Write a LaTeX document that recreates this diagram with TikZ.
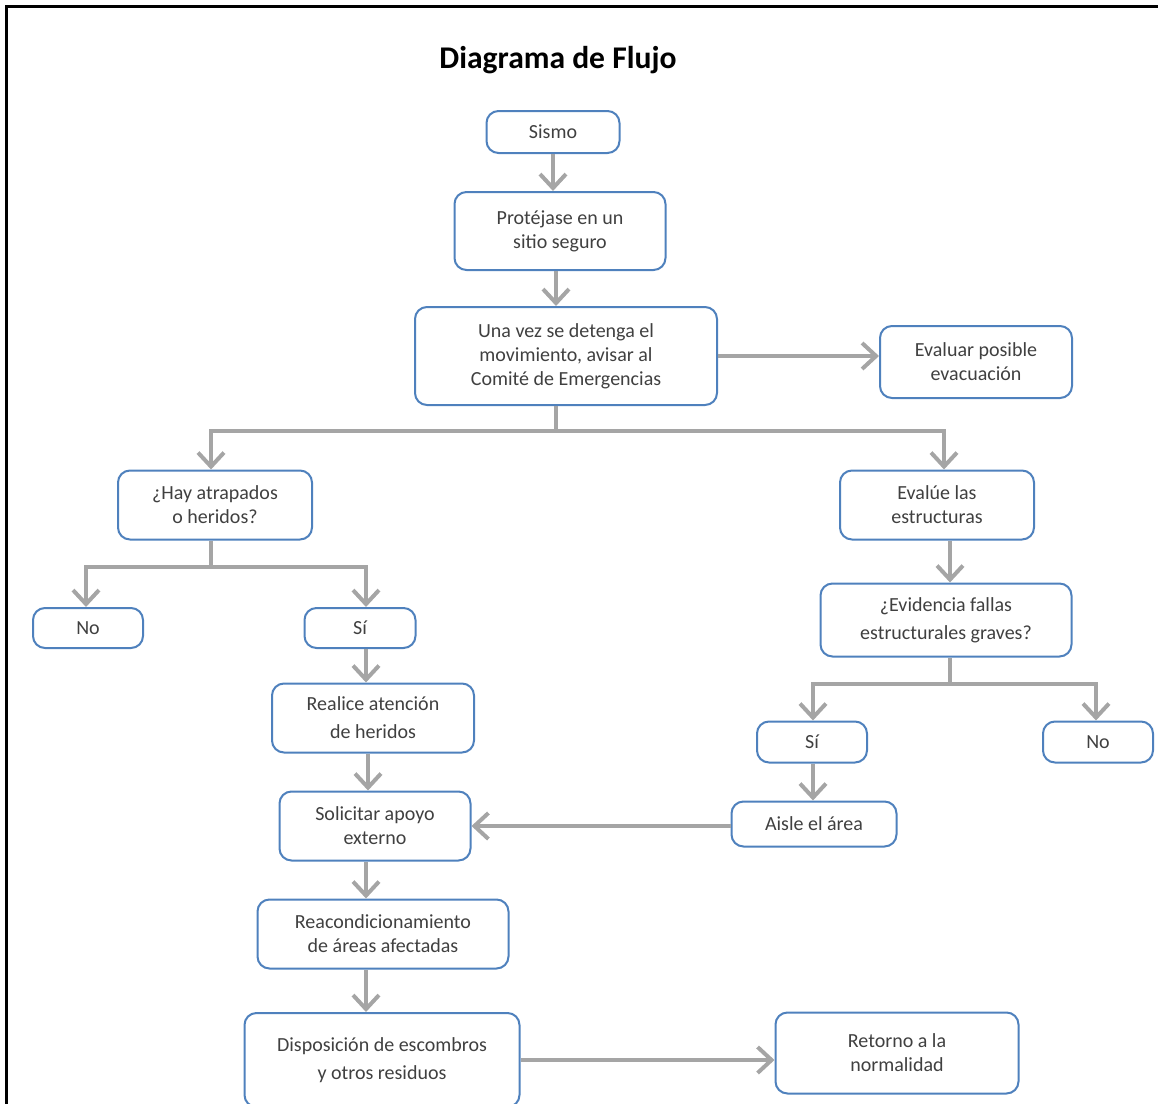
\documentclass[tikz,border=0pt]{standalone}
\usepackage{fontspec}
\setmainfont{Carlito}
\usetikzlibrary{arrows.meta}
\definecolor{boxblue}{RGB}{79,129,189}
\definecolor{arrgray}{RGB}{165,165,165}
\definecolor{txtgray}{RGB}{64,64,64}

\begin{document}
\begin{tikzpicture}[x=0.5pt,y=-0.5pt,
    box/.style={draw=boxblue,line width=1pt,rounded corners=6pt,fill=white,
      text=txtgray,align=center,font=\fontsize{10}{12}\selectfont,inner sep=2pt},
    line/.style={draw=arrgray,line width=2pt},
    arr/.style={line,-{Straight Barb[length=7pt,width=13pt]}}]
            \clip (0,0) rectangle (1158,1104);
            \draw[line width=1.5pt] (6,1110) -- (6,6) -- (1160,6);
            \node (Titulo) at (558,60) {\fontsize{15.8}{18}\selectfont\bfseries Diagrama de Flujo};
            \node[box,minimum width=66.5pt,minimum height=21pt] (Sismo) at (553,132) {Sismo};
            \node[box,minimum width=105.5pt,minimum height=39pt] (Proteja) at (560,231) {Protéjase en un\\sitio seguro};
            \node[box,minimum width=151pt,minimum height=49pt] (Aviso) at (566,356) {Una vez se detenga el\\movimiento, avisar al\\Comité de Emergencias};
            \node[box,minimum width=96pt,minimum height=36pt] (Evacua) at (976,362) {Evaluar posible\\evacuación};
            \node[box,minimum width=97pt,minimum height=34.5pt] (Heridos) at (215,505) {¿Hay atrapados\\o heridos?};
            \node[box,minimum width=97pt,minimum height=34.5pt] (Estruc) at (937,505) {Evalúe las\\estructuras};
            \node[box,minimum width=55pt,minimum height=20pt] (NoA) at (88,628) {No};
            \node[box,minimum width=55.5pt,minimum height=20pt] (SiA) at (360,628) {Sí};
            \node[box,minimum width=125.5pt,minimum height=36.5pt] (Fallas) at (946,620) {¿Evidencia fallas\\[2pt]estructurales graves?};
            \node[box,minimum width=101pt,minimum height=34.5pt] (Atencion) at (373,718) {Realice atención\\[2pt]de heridos};
            \node[box,minimum width=55pt,minimum height=20.5pt] (SiB) at (812,742) {Sí};
            \node[box,minimum width=55pt,minimum height=20.5pt] (NoB) at (1098,742) {No};
            \node[box,minimum width=95.5pt,minimum height=34.5pt] (Apoyo) at (375,826) {Solicitar apoyo\\externo};
            \node[box,minimum width=82.5pt,minimum height=22.5pt] (Aisle) at (814,824) {Aisle el área};
            \node[box,minimum width=125.5pt,minimum height=34.5pt] (Reacond) at (383,934) {Reacondicionamiento\\de áreas afectadas};
            \node[box,minimum width=137.5pt,minimum height=47pt] (Dispos) at (382,1060) {Disposición de escombros\\[2pt]y otros residuos};
            \node[box,minimum width=121.5pt,minimum height=40.5pt] (Retorno) at (897,1053) {Retorno a la\\normalidad};
            \coordinate (j1) at (556,431);
            \coordinate (j2) at (211,567);
            \coordinate (j3) at (950,684);
            \draw[arr] (Sismo.south) -- (Sismo.south |- Proteja.north);
            \draw[arr] (Proteja.south -| j1) -- (j1 |- Aviso.north);
            \draw[arr] (Aviso.east) -- (Evacua.west |- Aviso.east);
            \draw[line] (Aviso.south -| j1) -- (j1);
            \draw[arr] (j1) -| (Heridos.north -| 211,0);
            \draw[arr] (j1) -| (Estruc.north -| 944,0);
            \draw[line] (Heridos.south -| j2) -- (j2);
            \draw[arr] (j2) -| (NoA.north -| 86,0);
            \draw[arr] (j2) -| (SiA.north -| 366,0);
            \draw[arr] (SiA.south -| 366,0) -- (Atencion.north -| 366,0);
            \draw[arr] (Atencion.south -| 368,0) -- (Apoyo.north -| 368,0);
            \draw[arr] (Apoyo.south -| 366,0) -- (Reacond.north -| 366,0);
            \draw[arr] (Reacond.south -| 366,0) -- (Dispos.north -| 366,0);
            \draw[arr] (Dispos.east |- 0,1060) -- (Retorno.west |- 0,1060);
            \draw[arr] (Estruc.south -| j3) -- (Fallas.north -| j3);
            \draw[line] (Fallas.south -| j3) -- (j3);
            \draw[arr] (j3) -| (SiB.north -| 813,0);
            \draw[arr] (j3) -| (NoB.north -| 1096,0);
            \draw[arr] (SiB.south -| 813,0) -- (Aisle.north -| 813,0);
            \draw[arr] (Aisle.west |- 0,826) -- (Apoyo.east |- 0,826);
        \end{tikzpicture}
\end{document}
